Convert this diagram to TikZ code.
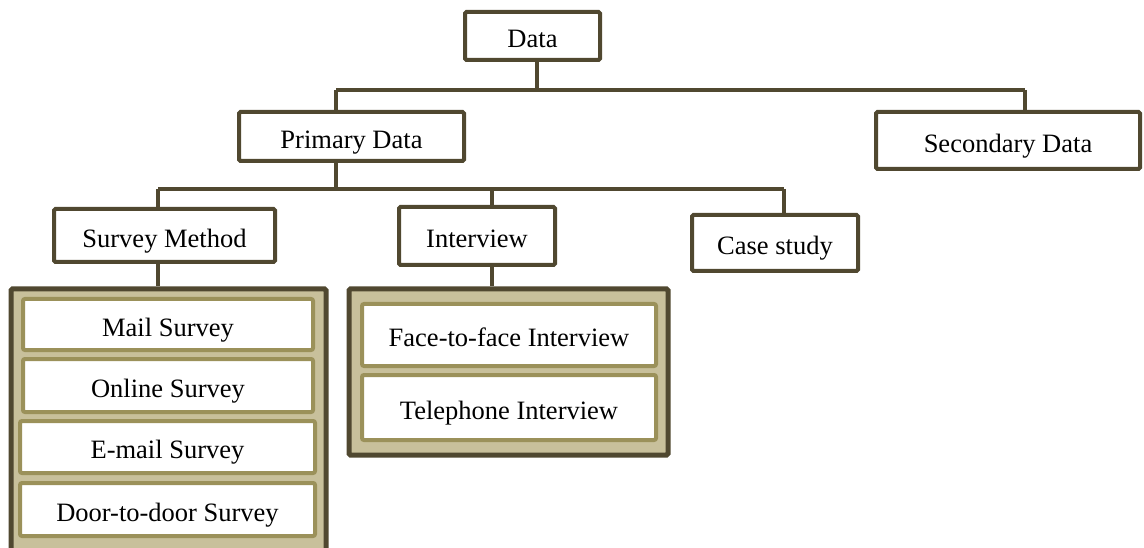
\documentclass[tikz,border=0pt]{standalone}
\usepackage{fontspec}
\setmainfont{Liberation Serif}
\usetikzlibrary{calc}
\definecolor{darkolive}{RGB}{80,72,48}
\definecolor{olive}{RGB}{155,145,90}
\definecolor{tan}{RGB}{200,192,155}
\tikzset{
  label text/.style={font=\fontsize{26.5}{31}\selectfont, text height=24pt, text depth=0.5pt},
  box/.style={draw=darkolive, line width=4pt, fill=white, rounded corners=1.5pt,
    inner sep=0pt, label text},
  group/.style={draw=darkolive, line width=5pt, fill=tan, rounded corners=1.5pt, inner sep=0pt},
  item/.style={draw=olive, line width=4pt, fill=white, rounded corners=2pt,
    inner sep=0pt, label text},
  link/.style={draw=darkolive, line width=4.5pt}
}
\begin{document}
\begin{tikzpicture}[x=1pt,y=-1pt]
\useasboundingbox (0,0) rectangle (1144,548);

% top levels
\node[box, minimum width=135pt, minimum height=48pt] (data) at (532.5,36) {Data};
\node[box, minimum width=225pt, minimum height=49pt] (primary) at (351.5,136.5) {Primary Data};
\node[box, minimum width=264pt, minimum height=57pt] (secondary) at (1008,140.5) {Secondary Data};

% methods
\node[box, minimum width=221pt, minimum height=53pt] (survey) at (164.5,235.5) {Survey Method};
\node[box, minimum width=156pt, minimum height=58pt] (interview) at (477,236) {Interview};
\node[box, minimum width=166pt, minimum height=56pt] (case) at (775,243) {Case study};

% grouped sub-methods
\node[group, minimum width=315pt, minimum height=264pt] (sgroup) at (168.5,421) {};
\node[group, minimum width=319pt, minimum height=166pt] (igroup) at (508.5,372) {};

\node[item, minimum width=290pt, minimum height=51pt] (mail) at (168,324.5) {Mail Survey};
\node[item, minimum width=290pt, minimum height=53pt] (online) at (168,385.5) {Online Survey};
\node[item, minimum width=295pt, minimum height=52pt] (email) at (167.5,447) {E-mail Survey};
\node[item, minimum width=295pt, minimum height=53pt] (door) at (167.5,509.5) {Door-to-door Survey};

\node[item, minimum width=294pt, minimum height=62pt] (face) at (509,335) {Face-to-face Interview};
\node[item, minimum width=294pt, minimum height=65pt] (phone) at (509,407.5) {Telephone Interview};

% connector junctions
\coordinate (j1) at (537,90);
\coordinate (pl) at (336,90);
\coordinate (sr) at (1025,90);
\coordinate (j2) at (336,189);
\coordinate (sl) at (158,189);
\coordinate (im) at (492,189);
\coordinate (cr) at (784,189);

% connectors
\draw[link] (data.south -| j1) -- (j1);
\draw[link] (pl) -- (sr);
\draw[link] (pl) -- (primary.north -| pl);
\draw[link] (sr) -- (secondary.north -| sr);
\draw[link] (primary.south -| j2) -- (j2);
\draw[link] (sl) -- (cr);
\draw[link] (sl) -- (survey.north -| sl);
\draw[link] (im) -- (interview.north -| im);
\draw[link] (cr) -- (case.north -| cr);
\draw[link] (survey.south -| sl) -- (sgroup.north -| sl);
\draw[link] (interview.south -| im) -- (igroup.north -| im);
\end{tikzpicture}
\end{document}
